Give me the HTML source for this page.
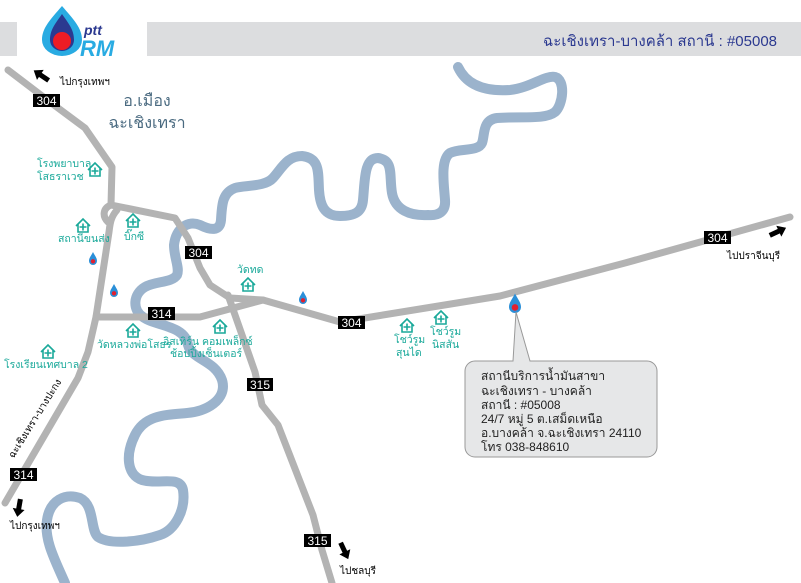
<!DOCTYPE html>
<html><head><meta charset="utf-8"><style>
body{margin:0;background:#fff;}
svg{display:block;font-family:"Liberation Sans","Noto Sans CJK SC",sans-serif;}
.r{fill:none;stroke:#b3b3b3;stroke-width:7;stroke-linecap:round;stroke-linejoin:round}
.lb rect{fill:#000}
.lb text{fill:#fff;font-size:12px;text-anchor:middle}
.t{fill:#1aa99a;font-size:10.5px}
.k{fill:#000;font-size:10px}
</style></head><body>
<svg width="801" height="583" viewBox="0 0 801 583">
<defs>
<g id="h"><path d="M-7,0 L0,-7 L7,0 M-5,-1.5 V6 H5 V-1.5" fill="none" stroke="#1aa99a" stroke-width="1.6"/><path d="M0,-2.5V4.5M-3.5,1H3.5" stroke="#1aa99a" stroke-width="1.6"/></g>
<g id="d"><path d="M0,-7 C2,-3 4,-1 4,2 A4,4 0 0 1 -4,2 C-4,-1 -2,-3 0,-7Z" fill="#2a8fd8"/><circle cx="0" cy="2.3" r="2.2" fill="#e02030"/></g>
<g id="a"><rect x="-8" y="-2.5" width="11" height="5" fill="#000"/><path d="M2,-6 L10,0 L2,6Z" fill="#000"/></g>
</defs>
<rect x="0" y="22" width="17" height="34" fill="#dcdddf"/>
<rect x="147" y="22" width="654" height="34" fill="#dcdddf"/>
<text x="777" y="46" font-size="15" fill="#2b3990" text-anchor="end">ฉะเชิงเทรา-บางคล้า  สถานี : #05008</text>
<!-- logo -->
<path d="M62,6 C50,20 42,28 42,40 A20,16 0 0 0 82,40 C82,28 74,20 62,6Z" fill="#29abe2"/>
<path d="M62,14 C55,24 50,30 50,40 A12,11 0 0 0 74,40 C74,30 69,24 62,14Z" fill="#2b3990"/>
<circle cx="62" cy="41" r="9" fill="#ed1c24"/>
<text x="84" y="35" font-size="14" font-style="italic" font-weight="bold" fill="#2b3990">ptt</text>
<text x="80" y="56" font-size="22" font-style="italic" font-weight="bold" fill="#29abe2">RM</text>
<!-- river -->
<path d="M458,67 C465,82 480,92 510,90 C530,88 545,75 555,77 C566,80 563,105 555,112 C545,120 520,116 497,118 C482,120 485,135 482,143 C478,152 460,148 450,153 C440,160 444,185 445,200 C446,212 438,216 428,215 C410,216 395,210 392,193 C389,175 394,160 378,158 C364,158 365,180 363,200 C362,212 355,216 340,216 C324,216 320,205 319,190 C318,172 320,158 302,156 C287,156 282,168 273,178 C265,187 245,185 235,188 C222,193 222,205 221,220 C220,232 210,230 200,225 C188,220 176,228 174,245 C174,258 180,268 177,275 C172,283 155,281 145,287 C133,294 132,310 143,317 C155,326 185,325 188,345 C192,360 215,360 222,380 C228,400 205,412 187,413 C165,415 145,415 135,435 C125,455 127,475 142,480 C160,485 180,475 183,490 C186,510 175,530 160,535 C140,542 110,545 98,537 C90,530 95,505 80,498 C65,493 50,500 47,520 C44,540 55,560 65,583" fill="none" stroke="#9bb3cc" stroke-width="10" stroke-linecap="round"/>
<!-- roads -->
<path class="r" d="M8,70 L50,102 L85,128 L112,167 L111,205 L175,218 L188,238 L200,268 L210,285 L230,298"/>
<path class="r" d="M230,298 L263,300 L340,322 L500,296 L625,263 L790,217"/>
<path class="r" d="M111,205 C103,208 102,216 108,222 M117,210 C110,218 110,225 109,232 L96,317 L88,352 L78,378 L5,503"/>
<path class="r" d="M96,317 L200,317 L263,300"/>
<path class="r" d="M228,295 L255,372 L262,405 L278,425 L313,515 L322,550 L332,583"/>
<!-- labels -->
<g class="lb">
<rect x="33" y="94" width="27" height="13"/><text x="46.5" y="105">304</text>
<rect x="185" y="246" width="27" height="13"/><text x="198.5" y="257">304</text>
<rect x="338" y="316" width="27" height="13"/><text x="351.5" y="327">304</text>
<rect x="704" y="231" width="27" height="13"/><text x="717.5" y="242">304</text>
<rect x="148" y="307" width="27" height="13"/><text x="161.5" y="318">314</text>
<rect x="247" y="378" width="26" height="13"/><text x="260" y="389">315</text>
<rect x="10" y="468" width="27" height="13"/><text x="23.5" y="479">314</text>
<rect x="304" y="534" width="27" height="13"/><text x="317.5" y="545">315</text>
</g>
<!-- arrows -->
<use href="#a" transform="translate(42,76) rotate(-146)"/>
<use href="#a" transform="translate(777,232) rotate(-25)"/>
<use href="#a" transform="translate(19,507) rotate(100)"/>
<use href="#a" transform="translate(344,550) rotate(65)"/>
<text class="k" x="60" y="85">ไปกรุงเทพฯ</text>
<text class="k" x="727" y="259">ไปปราจีนบุรี</text>
<text class="k" x="10" y="529">ไปกรุงเทพฯ</text>
<text class="k" x="340" y="574">ไปชลบุรี</text>
<text x="147" y="106" font-size="16" fill="#4a6a80" text-anchor="middle">อ.เมือง</text>
<text x="147" y="128" font-size="16" fill="#4a6a80" text-anchor="middle">ฉะเชิงเทรา</text>
<text transform="translate(10,-12) rotate(-58 38 410)" font-size="10" fill="#000"><tspan x="-32" y="413">ฉะเชิงเทรา-บางปะกง</tspan></text>
<!-- hospitals -->
<use href="#h" x="95" y="170"/><use href="#h" x="83" y="226"/><use href="#h" x="133" y="221"/>
<use href="#h" x="248" y="285"/><use href="#h" x="133" y="331"/><use href="#h" x="220" y="327"/>
<use href="#h" x="48" y="352"/><use href="#h" x="407" y="326"/><use href="#h" x="441" y="318"/>
<text class="t" x="37" y="167">โรงพยาบาล</text><text class="t" x="37" y="180">โสธราเวช</text>
<text class="t" x="58" y="242">สถานีขนส่ง</text>
<text class="t" x="124" y="240">บิ๊กซี</text>
<text class="t" x="237" y="273">วัดทด</text>
<text class="t" x="97" y="348">วัดหลวงพ่อโสธร</text>
<text class="t" x="163" y="345">อิสเทิร์น คอมเพล็กซ์</text><text class="t" x="170" y="357">ช้อปปิ้งเซ็นเตอร์</text>
<text class="t" x="4" y="368">โรงเรียนเทศบาล 2</text>
<text class="t" x="394" y="343">โชว์รูม</text><text class="t" x="396" y="356">สุนได</text>
<text class="t" x="430" y="335">โชว์รูม</text><text class="t" x="432" y="348">นิสสัน</text>
<!-- stations -->
<use href="#d" x="93" y="259"/><use href="#d" x="114" y="291"/><use href="#d" x="303" y="298"/>
<g transform="translate(515,304) scale(1.5)"><use href="#d"/></g>
<!-- callout -->
<path d="M475,361 H513 L516,312 L530,361 H647 A10,10 0 0 1 657,371 V447 A10,10 0 0 1 647,457 H475 A10,10 0 0 1 465,447 V371 A10,10 0 0 1 475,361Z" fill="#e6e7e8" stroke="#999" stroke-width="1"/>
<g font-size="12" fill="#222">
<text x="481" y="380">สถานีบริการน้ำมันสาขา</text>
<text x="481" y="395">ฉะเชิงเทรา - บางคล้า</text>
<text x="481" y="409">สถานี : #05008</text>
<text x="481" y="423">24/7 หมู่ 5 ต.เสม็ดเหนือ</text>
<text x="481" y="437">อ.บางคล้า จ.ฉะเชิงเทรา 24110</text>
<text x="481" y="451">โทร 038-848610</text>
</g>
</svg>
</body></html>
